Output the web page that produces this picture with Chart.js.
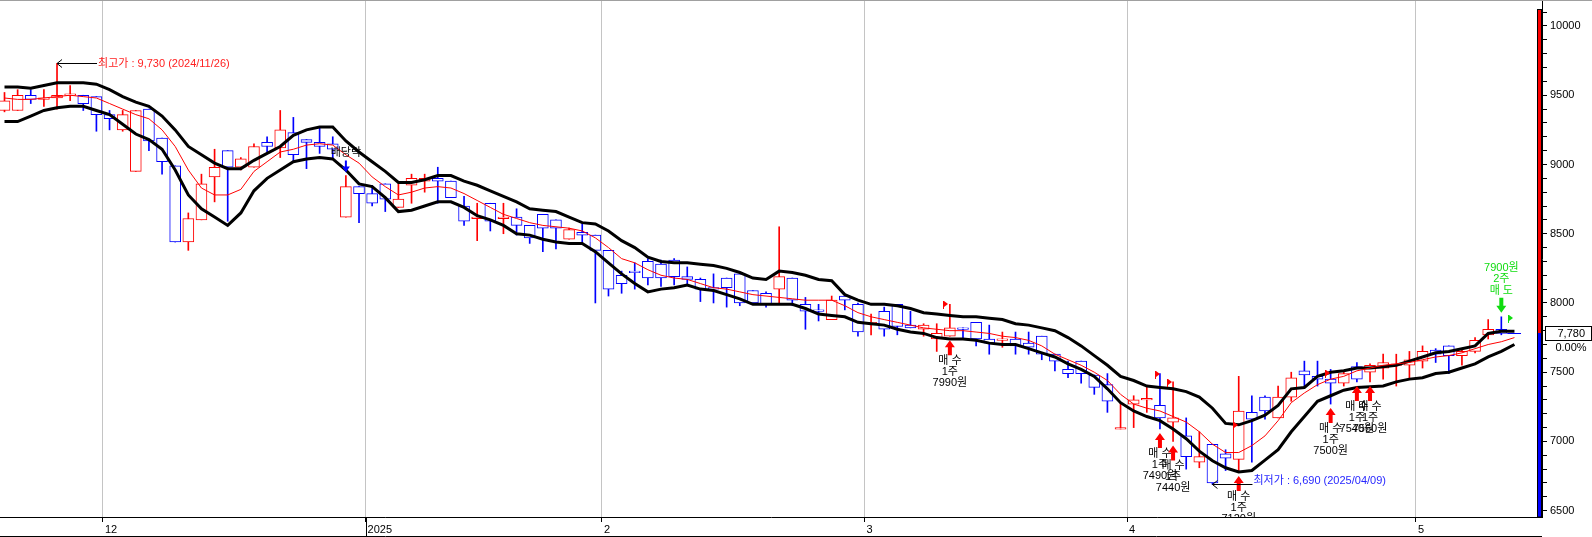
<!DOCTYPE html>
<html>
<head>
<meta charset="utf-8">
<script src="https://cdn.jsdelivr.net/npm/chart.js@4.4.1/dist/chart.umd.min.js"></script>
<style>
  html, body { margin: 0; padding: 0; background: #fff; }
  #wrap { position: relative; width: 1592px; height: 537px; }
</style>
</head>
<body>
<div id="wrap"><canvas id="myChart"></canvas></div>
<script>
// daily candles, 2024-11-20 .. 2025-05-14 (one entry per trading day)
const opens = [
  9390, 9390, 9500, 9470, 9480, 9500, 9500, 9490, 9360, 9250,
  8950, 9400, 9190, 8990, 8440, 8600, 8910, 9100, 8980, 8980,
  9160, 9120, 9230, 9180, 9160, 9150, 8620, 8840, 8790, 8860,
  8690, 8850, 8880, 8900, 8880, 8700, 8610, 8720, 8610, 8620,
  8560, 8640, 8600, 8460, 8510, 8490, 8380, 8200, 8230, 8300,
  8280, 8310, 8190, 8170, 8110, 8180, 8210, 8090, 8070, 8100,
  8180, 7990, 7950, 7880, 8050, 7990, 7850, 7940, 7990, 7840,
  7810, 7740, 7760, 7820, 7860, 7740, 7730, 7740, 7710, 7760,
  7630, 7520, 7580, 7480, 7410, 7090, 7270, 7300, 7260, 7140,
  7040, 6850, 6980, 6910, 6870, 7210, 7320, 7170, 7320, 7510,
  7470, 7450, 7420, 7540, 7500, 7530, 7550, 7550, 7580, 7660,
  7690, 7620, 7650, 7770, 7810
]
const highs = [
  9520, 9540, 9540, 9540, 9730, 9570, 9500, 9490, 9390, 9390,
  9390, 9400, 9190, 8990, 8650, 8930, 9110, 9100, 9050, 9150,
  9200, 9390, 9340, 9180, 9270, 9200, 8920, 8840, 8850, 8860,
  8860, 8930, 8930, 8980, 8880, 8770, 8720, 8720, 8720, 8680,
  8560, 8640, 8600, 8540, 8570, 8490, 8380, 8230, 8290, 8320,
  8310, 8320, 8260, 8180, 8210, 8180, 8210, 8090, 8080, 8550,
  8180, 8040, 7990, 8050, 8060, 8000, 7920, 7970, 7990, 7940,
  7850, 7850, 7990, 7820, 7860, 7840, 7790, 7790, 7790, 7760,
  7630, 7580, 7580, 7480, 7490, 7280, 7330, 7390, 7490, 7430,
  7170, 7070, 6980, 6940, 7470, 7330, 7330, 7400, 7500, 7580,
  7580, 7520, 7510, 7570, 7560, 7630, 7630, 7650, 7690, 7670,
  7690, 7670, 7750, 7880, 7900
]
const lows = [
  9380, 9390, 9440, 9420, 9400, 9460, 9390, 9240, 9250, 9240,
  8950, 9100, 8930, 8440, 8380, 8600, 8730, 8590, 8960, 8980,
  9090, 9050, 9020, 8970, 9080, 9040, 8620, 8580, 8700, 8660,
  8690, 8720, 8800, 8720, 8760, 8560, 8450, 8520, 8500, 8490,
  8430, 8370, 8390, 8460, 8430, 8000, 8050, 8070, 8100, 8130,
  8120, 8130, 8130, 8010, 8000, 7970, 7980, 8000, 7970, 7990,
  7980, 7810, 7870, 7880, 7950, 7760, 7770, 7760, 7770, 7820,
  7760, 7650, 7760, 7750, 7690, 7630, 7680, 7630, 7630, 7590,
  7510, 7460, 7420, 7340, 7210, 7090, 7100, 7210, 7090, 7000,
  6800, 6810, 6690, 6790, 6780, 6850, 7160, 7170, 7290, 7390,
  7400, 7270, 7400, 7430, 7430, 7450, 7400, 7450, 7530, 7570,
  7490, 7550, 7640, 7740, 7770
]
const closes = [
  9460, 9500, 9470, 9480, 9500, 9510, 9440, 9360, 9330, 9360,
  9390, 9170, 9020, 8440, 8610, 8860, 8980, 8980, 9040, 9130,
  9130, 9250, 9070, 9160, 9130, 9110, 8840, 8790, 8720, 8750,
  8750, 8900, 8900, 8880, 8760, 8590, 8620, 8590, 8620, 8560,
  8470, 8540, 8540, 8530, 8490, 8380, 8100, 8140, 8220, 8180,
  8180, 8190, 8170, 8100, 8100, 8110, 8000, 8000, 7990, 8190,
  8020, 7940, 7940, 8020, 8020, 7790, 7860, 7810, 7830, 7820,
  7840, 7780, 7820, 7810, 7740, 7710, 7740, 7690, 7680, 7630,
  7580, 7490, 7490, 7390, 7290, 7100, 7300, 7310, 7170, 7170,
  6890, 6890, 6700, 6880, 7220, 7160, 7220, 7320, 7460, 7480,
  7450, 7420, 7490, 7450, 7550, 7570, 7560, 7590, 7650, 7630,
  7620, 7650, 7730, 7810, 7780
]

// moving average and the two band lines (one point more than the candles)
const maLine = [
  9480, 9470, 9470, 9480, 9490, 9500, 9490, 9480, 9440, 9400,
  9360, 9330, 9250, 9130, 8960, 8830, 8780, 8780, 8820, 8950,
  9020, 9090, 9110, 9140, 9150, 9140, 9070, 9010, 8910, 8840,
  8780, 8800, 8830, 8840, 8830, 8790, 8740, 8690, 8640, 8610,
  8580, 8560, 8550, 8540, 8520, 8470, 8400, 8320, 8290, 8240,
  8200, 8180, 8170, 8140, 8110, 8100, 8080, 8060, 8050, 8040,
  8030, 8020, 8020, 8020, 7980, 7930, 7900, 7880, 7860, 7840,
  7820, 7810, 7800, 7800, 7790, 7780, 7760, 7750, 7730, 7690,
  7630, 7590, 7550, 7500, 7440, 7340, 7270, 7240, 7220, 7180,
  7140, 7070, 6980, 6920, 6920, 6970, 7040, 7150, 7280, 7350,
  7410, 7450, 7470, 7510, 7530, 7550, 7560, 7570, 7590, 7610,
  7620, 7640, 7670, 7700, 7720, 7750
]
const bandUpper = [
  9560, 9560, 9550, 9570, 9590, 9590, 9590, 9580, 9540, 9490,
  9450, 9420, 9350, 9250, 9130, 9070, 9010, 8970, 8970, 9030,
  9080, 9130, 9210, 9250, 9270, 9270, 9170, 9090, 9020, 8950,
  8870, 8870, 8890, 8920, 8920, 8880, 8850, 8810, 8770, 8730,
  8680, 8670, 8660, 8620, 8580, 8570, 8520, 8450, 8400, 8330,
  8300, 8290, 8290, 8280, 8270, 8250, 8220, 8180, 8170, 8230,
  8220, 8200, 8170, 8160, 8060, 8020, 7990, 7990, 7980, 7960,
  7930, 7920, 7910, 7900, 7900, 7890, 7880, 7850, 7840, 7820,
  7800, 7750, 7690, 7620, 7550, 7470, 7440, 7400, 7390, 7380,
  7360, 7320, 7240, 7130, 7120, 7150, 7190, 7260, 7380, 7390,
  7470, 7500, 7510, 7530, 7530, 7540, 7550, 7580, 7610, 7640,
  7650, 7670, 7690, 7780, 7795, 7795
]
const bandLower = [
  9310, 9310, 9350, 9390, 9410, 9420, 9420, 9390, 9360, 9290,
  9220, 9180, 9110, 8960, 8780, 8680, 8620, 8560, 8650, 8810,
  8900, 8960, 9020, 9040, 9050, 9040, 8960, 8860, 8840, 8760,
  8660, 8670, 8700, 8730, 8730, 8690, 8630, 8600, 8560, 8500,
  8490, 8460, 8440, 8430, 8430, 8370, 8290, 8210, 8140, 8080,
  8100, 8110, 8130, 8100, 8090, 8060, 8030, 7990, 7990, 7990,
  7990, 7960, 7920, 7910, 7900, 7860, 7850, 7840, 7810, 7790,
  7780, 7750, 7740, 7740, 7730, 7710, 7700, 7700, 7670, 7640,
  7610, 7560, 7520, 7470, 7380, 7280, 7220, 7180, 7150, 7090,
  7020, 6930, 6860, 6810, 6780, 6790, 6865, 6940, 7070, 7180,
  7290, 7330, 7370, 7390, 7395, 7400, 7430, 7450, 7460, 7490,
  7500, 7530, 7560, 7610, 7650, 7700
]

// month axis: first candle of each month and its label
const monthStart = [8, 28, 46, 66, 86, 108]
const monthLabels = ['12', '2025', '2', '3', '4', '5']

const lastPrice = 7780
const lastChange = '0.00%'

// trade marks (candle index, quantity, price text)
const buyIdx = [72, 88, 89, 94, 101, 103, 104]
const buyQty = ['1주', '1주', '1주', '1주', '1주', '1주', '1주']
const buyText = ['7990원', '7490원', '7440원', '7120원', '7500원', '7540원', '7560원']
const sellIdx = [114]
const sellQty = ['2주']
const sellText = ['7900원']

// small signal flags (position in candle index, price)
const flagUpIdx = [71.5, 87.6, 88.5, 93.6, 100.6]
const flagUpVal = [7994, 7490, 7430, 7120, 7495]
const flagDnIdx = [114.5]
const flagDnVal = [7893]

const highIdx = 4
const highText = '최고가 : 9,730 (2024/11/26)'
const lowIdx = 92
const lowText = '최저가 : 6,690 (2025/04/09)'
const exDivIdx = 26
const exDivText = '배당락'

const upColor = '#ff0000'
const downColor = '#0000ff'
const sellColor = '#10dc10'
const textFont = '11px "Liberation Sans", "Noto Sans CJK KR", sans-serif'

let candleColors = closes.map((c, i) => c >= opens[i] ? upColor : downColor)

let bodyData = opens.map((o, i) => {
  let lo = Math.min(o, closes[i])
  let hi = Math.max(o, closes[i])
  if (hi - lo < 12) {
    let mid = (hi + lo) / 2
    lo = mid - 6
    hi = mid + 6
  }
  return { x: i, y: [lo, hi] }
})
let wickData = lows.map((l, i) => ({ x: i, y: [l, highs[i]] }))
let toPoints = arr => arr.map((v, i) => ({ x: i, y: v }))

function drawArrow(ctx, x, tip, dir, color, half, len) {
  // dir 1 = pointing up, -1 = pointing down
  let head = half + 2
  ctx.fillStyle = color
  ctx.beginPath()
  ctx.moveTo(x, tip)
  ctx.lineTo(x - half, tip + dir * head)
  ctx.lineTo(x - 2, tip + dir * head)
  ctx.lineTo(x - 2, tip + dir * len)
  ctx.lineTo(x + 2, tip + dir * len)
  ctx.lineTo(x + 2, tip + dir * head)
  ctx.lineTo(x + half, tip + dir * head)
  ctx.closePath()
  ctx.fill()
}

function drawFlag(ctx, px, py, color) {
  px = Math.round(px)
  py = Math.round(py)
  ctx.fillStyle = color
  ctx.fillRect(px, py - 3, 1, 8)
  ctx.beginPath()
  ctx.moveTo(px + 1, py - 3)
  ctx.lineTo(px + 5, py)
  ctx.lineTo(px + 1, py + 3)
  ctx.closePath()
  ctx.fill()
}

function pointerLabel(ctx, x0, y0, text, color, dy) {
  ctx.strokeStyle = '#000'
  ctx.lineWidth = 1
  let yy = Math.round(y0) + 0.5
  ctx.beginPath()
  ctx.moveTo(x0, yy)
  ctx.lineTo(x0 + 40, yy)
  ctx.moveTo(x0 + 5, yy - 4)
  ctx.lineTo(x0, yy)
  ctx.lineTo(x0 + 5, yy + 4)
  ctx.stroke()
  ctx.fillStyle = color
  ctx.textAlign = 'left'
  ctx.fillText(text, x0 + 41, y0 + dy)
}

const htsMarks = {
  id: 'htsMarks',
  afterDatasetsDraw(chart) {
    const { ctx, chartArea: a, scales: { x, y } } = chart
    ctx.save()
    ctx.beginPath()
    ctx.rect(a.left, a.top, a.right - a.left, a.bottom - a.top)
    ctx.clip()
    ctx.font = textFont
    ctx.textBaseline = 'middle'

    flagUpIdx.forEach((f, i) => drawFlag(ctx, x.getPixelForValue(f), y.getPixelForValue(flagUpVal[i]), upColor))
    flagDnIdx.forEach((f, i) => drawFlag(ctx, x.getPixelForValue(f), y.getPixelForValue(flagDnVal[i]), sellColor))

    // current price line
    let pp = Math.round(y.getPixelForValue(lastPrice)) + 0.5
    ctx.strokeStyle = downColor
    ctx.lineWidth = 1
    ctx.beginPath()
    ctx.moveTo(x.getPixelForValue(114.45), pp)
    ctx.lineTo(x.getPixelForValue(115.5), pp)
    ctx.stroke()

    buyIdx.forEach((k, i) => {
      let px = x.getPixelForValue(k)
      let tip = y.getPixelForValue(lows[k]) + 4
      drawArrow(ctx, px, tip, 1, upColor, 5, 15)
      ctx.fillStyle = '#000'
      ctx.textAlign = 'center'
      ctx.fillText('매 수', px, tip + 21)
      ctx.fillText(buyQty[i], px, tip + 32)
      ctx.fillText(buyText[i], px, tip + 43)
    })

    sellIdx.forEach((k, i) => {
      let px = x.getPixelForValue(k)
      let tip = y.getPixelForValue(highs[k]) - 4
      drawArrow(ctx, px, tip, -1, sellColor, 5, 15)
      ctx.fillStyle = sellColor
      ctx.textAlign = 'center'
      ctx.fillText('매 도', px, tip - 22)
      ctx.fillText(sellQty[i], px, tip - 34)
      ctx.fillText(sellText[i], px, tip - 45)
    })

    // ex-dividend mark
    let ex = x.getPixelForValue(exDivIdx)
    let exTip = y.getPixelForValue(highs[exDivIdx]) - 3
    ctx.fillStyle = '#000'
    ctx.textAlign = 'center'
    ctx.fillText(exDivText, ex, exTip - 20)
    ctx.fillStyle = downColor
    ctx.beginPath()
    ctx.moveTo(ex, exTip)
    ctx.lineTo(ex - 4, exTip - 6)
    ctx.lineTo(ex - 1, exTip - 6)
    ctx.lineTo(ex - 1, exTip - 12)
    ctx.lineTo(ex + 1, exTip - 12)
    ctx.lineTo(ex + 1, exTip - 6)
    ctx.lineTo(ex + 4, exTip - 6)
    ctx.closePath()
    ctx.fill()

    pointerLabel(ctx, x.getPixelForValue(highIdx), y.getPixelForValue(highs[highIdx]), highText, '#ff2020', 1)
    pointerLabel(ctx, x.getPixelForValue(lowIdx), y.getPixelForValue(lows[lowIdx]), lowText, '#2828ff', -3)
    ctx.restore()
  },
  afterDraw(chart) {
    const { ctx, chartArea: a, scales: { x, y }, width } = chart
    let py = Math.round(y.getPixelForValue(lastPrice))
    ctx.save()
    // price side bar
    ctx.fillStyle = upColor
    ctx.fillRect(a.right - 4, 10, 4, py - 10)
    ctx.fillStyle = downColor
    ctx.fillRect(a.right - 4, py, 4, a.bottom - py)
    ctx.strokeStyle = '#000'
    ctx.lineWidth = 1
    ctx.strokeRect(a.right - 4.5, 9.5, 4, a.bottom - 9.5)

    // last price box
    ctx.fillStyle = '#fff'
    ctx.fillRect(a.right + 3.5, py - 6.5, width - a.right - 4, 14)
    ctx.strokeRect(a.right + 3.5, py - 6.5, width - a.right - 4, 14)
    ctx.fillStyle = '#000'
    ctx.font = textFont
    ctx.textBaseline = 'middle'
    ctx.textAlign = 'right'
    ctx.fillText(lastPrice.toLocaleString('en-US'), width - 7, py + 1)
    ctx.textAlign = 'center'
    ctx.fillText(lastChange, a.right + 29, py + 15)

    // frame
    ctx.strokeStyle = '#a0a0a0'
    ctx.beginPath()
    ctx.moveTo(0, 0.5)
    ctx.lineTo(width, 0.5)
    ctx.stroke()
    ctx.strokeStyle = '#000'
    ctx.beginPath()
    ctx.moveTo(0, 536.5)
    ctx.lineTo(a.right, 536.5)
    let yx = Math.round(x.getPixelForValue(monthStart[1] - 0.5)) + 0.5
    ctx.moveTo(yx, a.bottom)
    ctx.lineTo(yx, 537)
    ctx.stroke()
    ctx.restore()
  }
}

let config = {
  type: 'bar',
  data: {
    datasets: [
      {
        type: 'line',
        label: 'MA',
        data: toPoints(maLine),
        borderColor: '#ff0000',
        borderWidth: 1,
        pointRadius: 0,
        tension: 0,
        order: 0
      },
      {
        type: 'line',
        label: 'Upper',
        data: toPoints(bandUpper),
        borderColor: '#000000',
        borderWidth: 3,
        pointRadius: 0,
        tension: 0,
        order: 0
      },
      {
        type: 'line',
        label: 'Lower',
        data: toPoints(bandLower),
        borderColor: '#000000',
        borderWidth: 3,
        pointRadius: 0,
        tension: 0,
        order: 0
      },
      {
        label: 'Body',
        data: bodyData,
        backgroundColor: '#ffffff',
        borderColor: candleColors,
        borderWidth: 1,
        borderSkipped: false,
        barThickness: 11,
        grouped: false,
        order: 1
      },
      {
        label: 'Wick',
        data: wickData,
        backgroundColor: candleColors,
        borderWidth: 0,
        barThickness: 1,
        grouped: false,
        order: 2
      }
    ]
  },
  options: {
    responsive: true,
    maintainAspectRatio: false,
    devicePixelRatio: 1,
    animation: false,
    events: [],
    layout: { padding: { top: 1, left: 0, right: 0, bottom: 0 } },
    plugins: {
      legend: { display: false },
      tooltip: { enabled: false }
    },
    scales: {
      x: {
        type: 'linear',
        min: -0.3427,
        max: 117.098,
        offset: false,
        grid: { color: '#c4c4c4', tickColor: '#000', tickLength: 5, offset: false },
        border: { color: '#000' },
        afterBuildTicks: scale => {
          scale.ticks = monthStart.map(i => ({ value: i - 0.5 }))
        },
        afterFit: scale => {
          scale.height = 20
          scale.paddingLeft = 0
          scale.paddingRight = 0
        },
        ticks: {
          autoSkip: false,
          maxRotation: 0,
          align: 'start',
          labelOffset: 2,
          padding: 1,
          color: '#000',
          font: { family: 'Liberation Sans', size: 11 },
          callback: (v, i) => monthLabels[i]
        }
      },
      y: {
        type: 'linear',
        position: 'right',
        min: 6454.4,
        max: 10180.5,
        beginAtZero: false,
        grid: { drawOnChartArea: false, tickColor: '#000', tickLength: 5 },
        border: { color: '#000' },
        afterBuildTicks: scale => {
          let t = []
          for (let v = 6500; v <= 10100; v += 100) t.push({ value: v })
          scale.ticks = t
        },
        afterFit: scale => {
          scale.width = 50
          scale.paddingTop = 0
          scale.paddingBottom = 0
        },
        ticks: {
          autoSkip: false,
          padding: 3,
          color: '#000',
          font: { family: 'Liberation Sans', size: 11 },
          callback: v => v % 500 === 0 ? String(v) : ''
        }
      }
    }
  },
  plugins: [htsMarks]
}

let myChart = new Chart(document.getElementById('myChart'), config)
</script>
</body>
</html>
